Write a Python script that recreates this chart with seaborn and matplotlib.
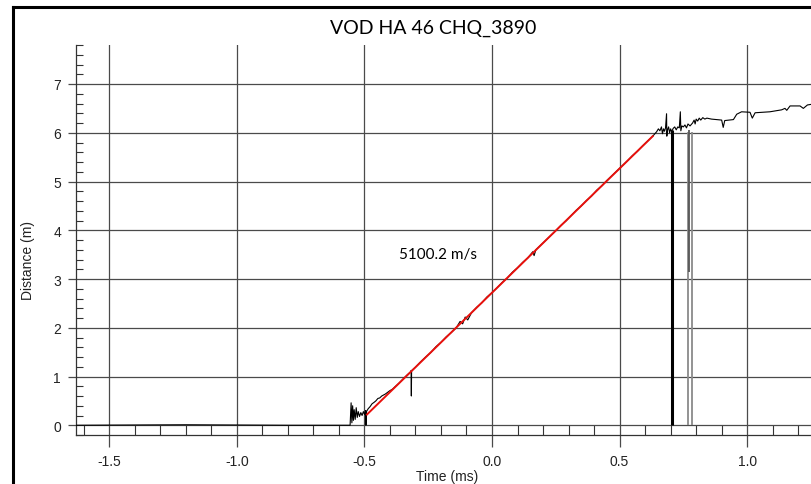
import matplotlib
matplotlib.use("Agg")
import matplotlib.pyplot as plt
import seaborn as sns
import pandas as pd
from matplotlib.ticker import MultipleLocator
from matplotlib.lines import Line2D

# ---------------- data ----------------
title = "VOD HA 46 CHQ_3890"
x_label = "Time (ms)"
y_label = "Distance (m)"
velocity_label = "5100.2 m/s"

x_ticks = [-1.5, -1.0, -0.5, 0.0, 0.5, 1.0]
x_tick_labels = ["-1.5", "-1.0", "-0.5", "0.0", "0.5", "1.0"]
y_ticks = [0, 1, 2, 3, 4, 5, 6, 7]
y_tick_labels = ["0", "1", "2", "3", "4", "5", "6", "7"]

trace_t = [-1.63, -1.20, -0.80, -0.556, -0.552, -0.549, -0.546, -0.543, -0.540, -0.536,
           -0.532, -0.528, -0.524, -0.519, -0.514, -0.509, -0.504, -0.499, -0.495, -0.494,
           -0.492, -0.485, -0.478, -0.470, -0.462, -0.455, -0.447, -0.440, -0.432, -0.425,
           -0.418, -0.410, -0.400, -0.390, -0.380, -0.365, -0.350, -0.335, -0.320, -0.317,
           -0.316, -0.315, -0.300, -0.280, -0.260, -0.240, -0.220, -0.200, -0.180, -0.160,
           -0.140, -0.125, -0.115, -0.105, -0.095, -0.080, -0.060, -0.040, -0.020, 0.000,
           0.020, 0.040, 0.060, 0.080, 0.100, 0.120, 0.140, 0.160, 0.165, 0.172,
           0.190, 0.210, 0.230, 0.250, 0.270, 0.290, 0.310, 0.330, 0.350, 0.370,
           0.390, 0.410, 0.430, 0.450, 0.470, 0.490, 0.510, 0.530, 0.550, 0.570,
           0.590, 0.610, 0.630, 0.645, 0.652, 0.658, 0.664, 0.668, 0.672, 0.676,
           0.680, 0.684, 0.685, 0.688, 0.692, 0.696, 0.700, 0.704, 0.710, 0.716,
           0.722, 0.728, 0.734, 0.738, 0.740, 0.744, 0.750, 0.756, 0.762, 0.768,
           0.776, 0.786, 0.792, 0.796, 0.800, 0.806, 0.812, 0.818, 0.826, 0.834,
           0.842, 0.860, 0.880, 0.900, 0.906, 0.912, 0.930, 0.946, 0.959, 0.978,
           1.011, 1.020, 1.031, 1.060, 1.089, 1.135, 1.148, 1.155, 1.168, 1.207,
           1.220, 1.236, 1.260]
trace_d = [0.00, 0.01, 0.00, 0.00, 0.46, 0.05, 0.40, 0.10, 0.32, 0.12,
           0.36, 0.16, 0.28, 0.18, 0.26, 0.20, 0.28, 0.22, 0.30, 0.00,
           0.28, 0.34, 0.38, 0.44, 0.47, 0.50, 0.55, 0.56, 0.60, 0.62,
           0.64, 0.67, 0.71, 0.74, 0.79, 0.86, 0.94, 1.02, 1.09, 1.12,
           0.60, 1.12, 1.19, 1.30, 1.40, 1.49, 1.61, 1.70, 1.81, 1.90,
           2.00, 2.13, 2.08, 2.22, 2.16, 2.31, 2.42, 2.51, 2.63, 2.72,
           2.82, 2.93, 3.02, 3.14, 3.23, 3.34, 3.43, 3.56, 3.48, 3.60,
           3.69, 3.79, 3.89, 3.99, 4.10, 4.19, 4.30, 4.41, 4.50, 4.61,
           4.70, 4.82, 4.91, 5.02, 5.12, 5.22, 5.32, 5.42, 5.53, 5.62,
           5.73, 5.83, 5.93, 6.02, 6.08, 6.04, 6.12, 5.98, 6.08, 6.03,
           6.10, 6.39, 5.93, 6.06, 6.12, 6.00, 6.08, 6.02, 6.09, 6.12,
           6.06, 6.12, 6.10, 6.43, 6.04, 6.14, 6.12, 6.16, 6.10, 6.18,
           6.14, 6.20, 6.26, 6.18, 6.28, 6.24, 6.30, 6.26, 6.31, 6.28,
           6.30, 6.28, 6.27, 6.26, 6.11, 6.25, 6.26, 6.27, 6.38, 6.43,
           6.42, 6.30, 6.41, 6.42, 6.43, 6.47, 6.50, 6.46, 6.55, 6.55,
           6.50, 6.57, 6.59]

fit_t = [-0.49, 0.63]
fit_d = [0.22, 5.93]

drop_t = [0.706]
drop_top = [6.05]
drop_bottom = [0.0]

gray_t = [0.767, 0.772, 0.782]
gray_top = [6.02, 6.05, 6.02]
gray_bottom = [0.0, 3.14, 0.0]

label_t = -0.21
label_d = 3.51

# ---------------- figure ----------------
W, H = 811, 485
fig = plt.figure(figsize=(W / 100, H / 100), dpi=100)
fig.patch.set_facecolor("white")

ax = fig.add_axes([76 / W, 49 / H, (W - 76) / W, 390 / H])
ax.set_facecolor("white")

grid_c = "#4a4a4a"
ax.set_xlim(-1.63, 1.25)
ax.set_ylim(-0.2, 7.8)
ax.set_xticks(x_ticks)
ax.set_xticklabels(x_tick_labels)
ax.set_yticks(y_ticks)
ax.set_yticklabels(y_tick_labels)
ax.xaxis.set_minor_locator(MultipleLocator(0.1))
ax.yaxis.set_minor_locator(MultipleLocator(0.2))
ax.grid(True, which="major", color=grid_c, linewidth=0.9)
ax.grid(False, which="minor")
ax.set_axisbelow(True)

for s in ["top", "right"]:
    ax.spines[s].set_visible(False)
for s in ["left", "bottom"]:
    ax.spines[s].set_color("#333333")
    ax.spines[s].set_linewidth(0.9)

tick_font = dict(family=["Liberation Sans", "DejaVu Sans"], size=10)
ax.tick_params(axis="x", which="major", direction="out", length=8.5, width=0.9,
               color=grid_c, pad=5, labelsize=10, labelcolor="#222222")
ax.tick_params(axis="x", which="minor", direction="in", length=7, width=0.8, color="#333333")
ax.tick_params(axis="y", which="major", direction="out", length=5.8, width=0.9,
               color=grid_c, pad=5, labelsize=10, labelcolor="#222222")
ax.tick_params(axis="y", which="minor", direction="in", length=5, width=0.8, color="#333333")
for lab in ax.get_xticklabels() + ax.get_yticklabels():
    lab.set_fontfamily(["Liberation Sans", "DejaVu Sans"])

trace_df = pd.DataFrame({"t": trace_t, "d": trace_d})
fit_df = pd.DataFrame({"t": fit_t, "d": fit_d})

ax.vlines(gray_t, gray_bottom, gray_top, colors=["#8a8a8a", "#555555", "#8a8a8a"],
          linewidth=1.3, zorder=3)
ax.vlines(drop_t, drop_bottom, drop_top, colors="black", linewidth=2.2, zorder=3)
sns.lineplot(data=trace_df, x="t", y="d", sort=False, estimator=None, color="black",
             linewidth=0.8, ax=ax, zorder=4)
sns.lineplot(data=fit_df, x="t", y="d", sort=False, estimator=None, color="#e8100c",
             linewidth=1.4, ax=ax, zorder=5)

ax.text(label_t, label_d, velocity_label, ha="center", va="center",
        fontsize=11, family=["Lato", "DejaVu Sans"], color="black")

ax.set_xlabel("")
ax.set_ylabel("")
fig.text(447 / W, 1 - 477 / H, x_label, ha="center", va="center", fontsize=10,
         family=["Liberation Sans", "DejaVu Sans"], color="#222222")
fig.text(28 / W, 1 - 260 / H, y_label, ha="center", va="center", fontsize=10,
         rotation=90, family=["Liberation Sans", "DejaVu Sans"], color="#222222")
fig.text(433 / W, 1 - 28 / H, title, ha="center", va="center", fontsize=14,
         family=["Lato", "DejaVu Sans"], color="black")

# screenshot frame
fig.add_artist(Line2D([13 / W, 13 / W], [0, 1 - 8 / H], transform=fig.transFigure,
                      color="black", linewidth=2.2))
fig.add_artist(Line2D([13 / W, 1], [1 - 8 / H, 1 - 8 / H], transform=fig.transFigure,
                      color="black", linewidth=2.2))

fig.savefig("out.png", dpi=100)
